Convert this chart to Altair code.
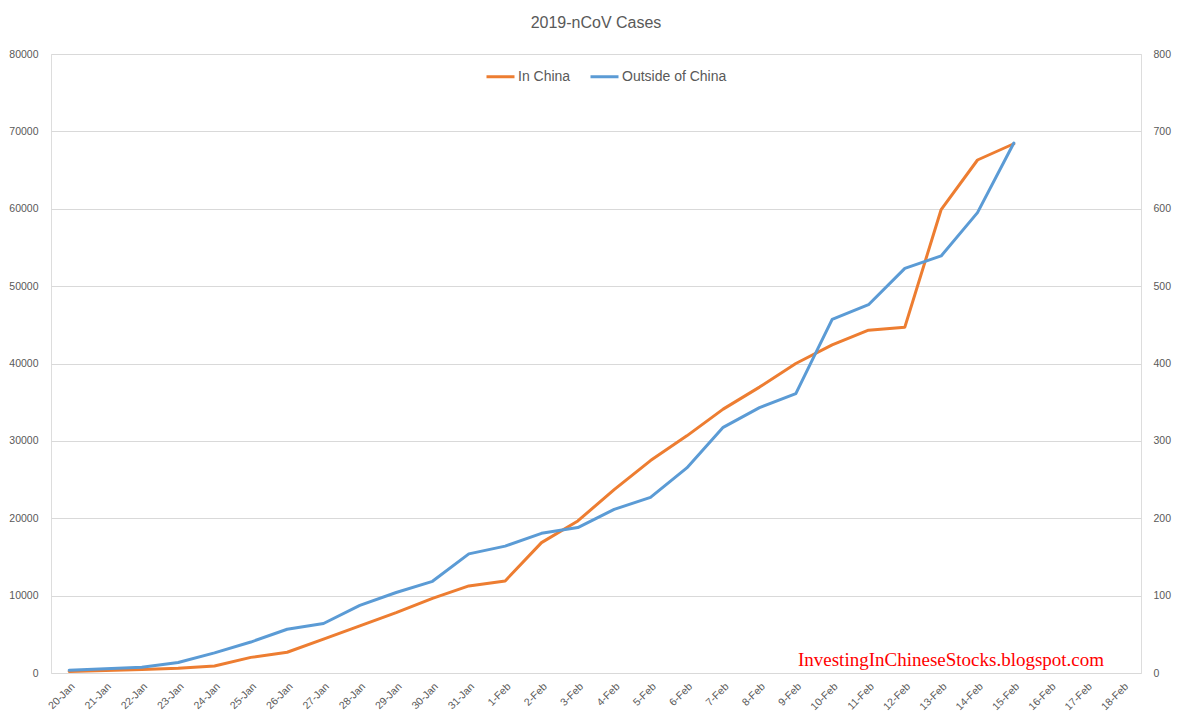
import altair as alt
import pandas as pd

dates = ["20-Jan", "21-Jan", "22-Jan", "23-Jan", "24-Jan", "25-Jan", "26-Jan",
         "27-Jan", "28-Jan", "29-Jan", "30-Jan", "31-Jan",
         "1-Feb", "2-Feb", "3-Feb", "4-Feb", "5-Feb", "6-Feb", "7-Feb", "8-Feb",
         "9-Feb", "10-Feb", "11-Feb", "12-Feb", "13-Feb", "14-Feb", "15-Feb",
         "16-Feb", "17-Feb", "18-Feb"]

in_china = [200, 310, 440, 600, 900, 2020, 2680, 4380, 6100, 7800, 9650, 11250,
            11900, 16850, 19650, 23700, 27450, 30650, 34100, 36950, 40000, 42400,
            44300, 44700, 59900, 66300, 68400]

outside_china = [3.5, 5.5, 7.5, 13.5, 26, 40, 56.5, 64, 87.5, 104, 118.5, 154,
                 164, 180.5, 188, 211.5, 227, 265, 317.5, 343, 361, 457, 476,
                 523, 539, 595, 685]

series_names = ["In China", "Outside of China"]
series_colors = ["#ED7D31", "#5B9BD5"]
left_ticks = [0, 10000, 20000, 30000, 40000, 50000, 60000, 70000, 80000]
right_ticks = [0, 100, 200, 300, 400, 500, 600, 700, 800]
title_text = "2019-nCoV Cases"
watermark = "InvestingInChineseStocks.blogspot.com"

n = len(in_china)
df_cn = pd.DataFrame({"date": dates[:n], "cases": in_china, "series": series_names[0]})
df_out = pd.DataFrame({"date": dates[:n], "cases": outside_china, "series": series_names[1]})

FONT = "Liberation Sans"
GRAY = "#595959"

xenc = alt.X("date:O", sort=dates, scale=alt.Scale(domain=dates),
             axis=alt.Axis(title=None, labelAngle=-45, ticks=False, domain=False,
                           grid=False, labelFontSize=10.5, labelColor=GRAY,
                           labelFont=FONT, labelPadding=8, labelAlign="right",
                           labelBaseline="top"))

color = alt.Color("series:N",
                  scale=alt.Scale(domain=series_names, range=series_colors),
                  legend=alt.Legend(title=None, orient="none", legendX=434, legendY=7,
                                    direction="horizontal", symbolType="stroke",
                                    symbolSize=784, symbolStrokeWidth=3,
                                    labelFontSize=14, labelFont=FONT, labelColor=GRAY,
                                    labelOffset=2, columnPadding=13))

line_kw = dict(strokeWidth=3, strokeJoin="round", strokeCap="round")

left = alt.Chart(df_cn).mark_line(**line_kw).encode(
    x=xenc,
    y=alt.Y("cases:Q", scale=alt.Scale(domain=[0, 80000], nice=False),
            axis=alt.Axis(title=None, values=left_ticks, format="d", ticks=False,
                          domain=False, labelColor=GRAY, labelFontSize=10.5,
                          labelFont=FONT, labelPadding=13, gridColor="#D9D9D9",
                          gridWidth=1)),
    color=color,
)

right = alt.Chart(df_out).mark_line(**line_kw).encode(
    x=xenc,
    y=alt.Y("cases:Q", scale=alt.Scale(domain=[0, 800], nice=False),
            axis=alt.Axis(title=None, orient="right", values=right_ticks, format="d",
                          ticks=False, domain=False, grid=False, labelColor=GRAY,
                          labelFontSize=10.5, labelFont=FONT, labelPadding=12)),
    color=color,
)

wm = alt.Chart(pd.DataFrame({"t": [watermark]})).mark_text(
    font="Liberation Serif", fontSize=19, color="#FF0000"
).encode(text="t:N", x=alt.value(900), y=alt.value(606))

ttl = alt.Chart(pd.DataFrame({"t": [title_text]})).mark_text(
    font=FONT, fontSize=16, color=GRAY, baseline="middle", align="center"
).encode(text="t:N", x=alt.value(545), y=alt.value(-31))

chart = alt.layer(left, right, wm, ttl).resolve_scale(y="independent").properties(
    width=1090, height=619,
    autosize=alt.AutoSizeParams(type="none"),
    padding={"left": 43, "top": 46, "right": 45, "bottom": 38},
).configure_view(stroke=None).configure(background="white")

chart.save("out.html", embed_options={"renderer": "svg", "actions": False})
